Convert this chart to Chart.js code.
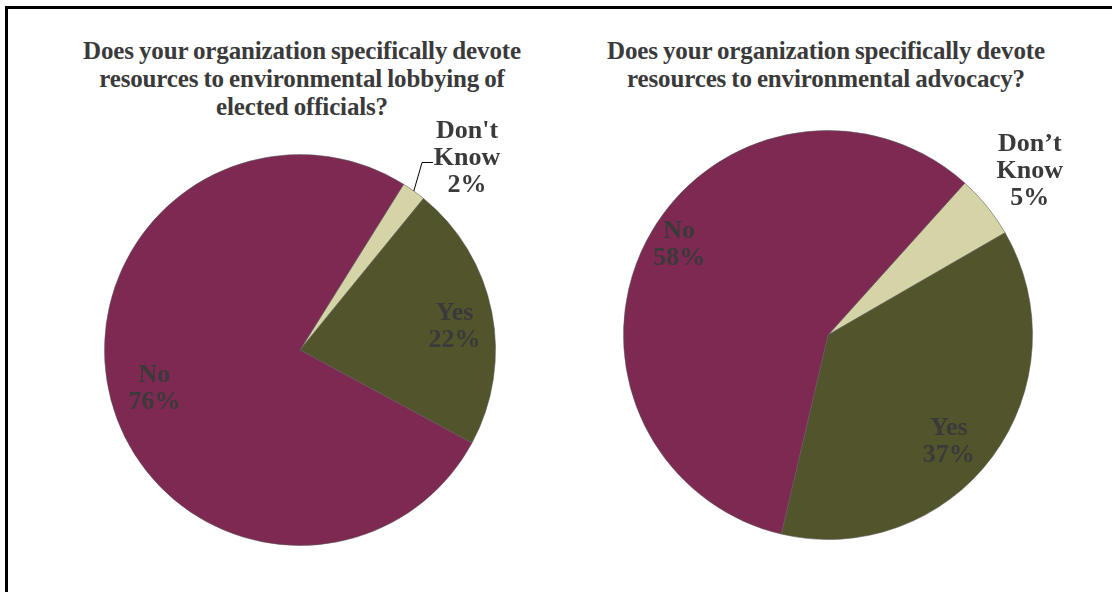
<!DOCTYPE html>
<html lang="en">
<head>
    <meta charset="UTF-8">
    <title>Environmental lobbying and advocacy</title>
    <script src="https://cdn.jsdelivr.net/npm/chart.js"></script>
    <style>
        body {
            margin: 0;
            background: #fff;
            font-family: "Liberation Serif", "Times New Roman", serif;
        }
        #frame {
            position: absolute;
            left: 5px;
            top: 6px;
            width: 1107px;
            height: 586px;
            border-top: 3px solid #000;
            border-left: 3px solid #000;
        }
        .title {
            position: absolute;
            text-align: center;
            font-weight: bold;
            font-size: 25px;
            line-height: 28px;
            color: #3a3a3a;
            letter-spacing: -0.15px;
            word-spacing: -1px;
        }
        #title1 { left: 20px; width: 564px; top: 37px; }
        #title2 { left: 546px; width: 560px; top: 37px; }
        .box {
            position: absolute;
            top: 0;
            width: 556px;
            height: 592px;
        }
        #box1 { left: 0; }
        #box2 { left: 556px; }
    </style>
</head>
<body>
    <div id="frame"></div>
    <div class="title" id="title1">Does your organization specifically devote<br>resources to environmental lobbying of<br>elected officials?</div>
    <div class="title" id="title2">Does your organization specifically devote<br>resources to environmental advocacy?</div>
    <div class="box" id="box1"><canvas id="chart1"></canvas></div>
    <div class="box" id="box2"><canvas id="chart2"></canvas></div>

    <script type="text/javascript">
        // data
        var lobbyLabels = ["Don't Know", 'Yes', 'No'];
        var lobbyValues = [2, 22, 76];
        var advocacyLabels = ['Don\u2019t Know', 'Yes', 'No'];
        var advocacyValues = [5, 37, 58];

        var sliceColors = ['#D5D4A7', '#52542B', '#7D2952'];

        // label placement: fraction of radius along slice middle, plus a small turn in degrees
        var lobbyLabelPos = [1.30, 0.80, 0.77];
        var lobbyLabelTurn = [5.5, 2.5, 0];
        var advocacyLabelPos = [1.27, 0.79, 0.85];
        var advocacyLabelTurn = [0, 5, 3.5];

        var labelPlugin = {
            id: 'sliceLabels',
            afterDatasetsDraw: function(chart, args, opts) {
                var ctx = chart.ctx;
                var meta = chart.getDatasetMeta(0);
                var values = chart.data.datasets[0].data;
                ctx.save();
                ctx.font = 'bold 26px "Liberation Serif", "Times New Roman", serif';
                ctx.fillStyle = '#3a3a3a';
                ctx.textAlign = 'center';
                ctx.textBaseline = 'middle';
                meta.data.forEach(function(arc, i) {
                    var p = arc.getProps(['x', 'y', 'startAngle', 'endAngle', 'outerRadius'], true);
                    var mid = (p.startAngle + p.endAngle) / 2;
                    var a = mid + opts.turn[i] * Math.PI / 180;
                    var f = opts.pos[i];
                    var lx = p.x + Math.cos(a) * p.outerRadius * f;
                    var ly = p.y + Math.sin(a) * p.outerRadius * f;
                    var name = chart.data.labels[i];
                    var lines = name.indexOf('Know') >= 0 ? name.split(' ') : [name];
                    lines.push(values[i] + '%');
                    var lh = 27;
                    var top = ly - (lines.length - 1) * lh / 2;
                    lines.forEach(function(t, k) {
                        ctx.fillText(t, lx, top + k * lh);
                    });
                    if (opts.leader === i) {
                        ctx.strokeStyle = '#000';
                        ctx.lineWidth = 1;
                        ctx.beginPath();
                        ctx.moveTo(p.x + Math.cos(mid) * p.outerRadius, p.y + Math.sin(mid) * p.outerRadius);
                        ctx.lineTo(lx - 45, ly + 4);
                        ctx.lineTo(lx - 34, ly + 4);
                        ctx.stroke();
                    }
                });
                ctx.restore();
            }
        };

        function makePie(id, labels, values, rotation, padding, pos, turn, leader) {
            var ctx = document.getElementById(id).getContext('2d');
            return new Chart(ctx, {
                type: 'pie',
                data: {
                    labels: labels,
                    datasets: [{
                        data: values,
                        backgroundColor: sliceColors,
                        borderColor: 'rgba(90, 90, 90, 0.55)',
                        borderWidth: 1
                    }]
                },
                options: {
                    responsive: true,
                    maintainAspectRatio: false,
                    animation: false,
                    rotation: rotation,
                    layout: { padding: padding },
                    plugins: {
                        legend: { display: false },
                        tooltip: { enabled: false },
                        sliceLabels: { pos: pos, turn: turn, leader: leader }
                    }
                },
                plugins: [labelPlugin]
            });
        }

        makePie('chart1', lobbyLabels, lobbyValues, 32,
            { left: 104, top: 154, right: 60, bottom: 46 }, lobbyLabelPos, lobbyLabelTurn, 0);
        makePie('chart2', advocacyLabels, advocacyValues, 42,
            { left: 67, top: 130, right: 79, bottom: 52 }, advocacyLabelPos, advocacyLabelTurn, -1);
    </script>
</body>
</html>
